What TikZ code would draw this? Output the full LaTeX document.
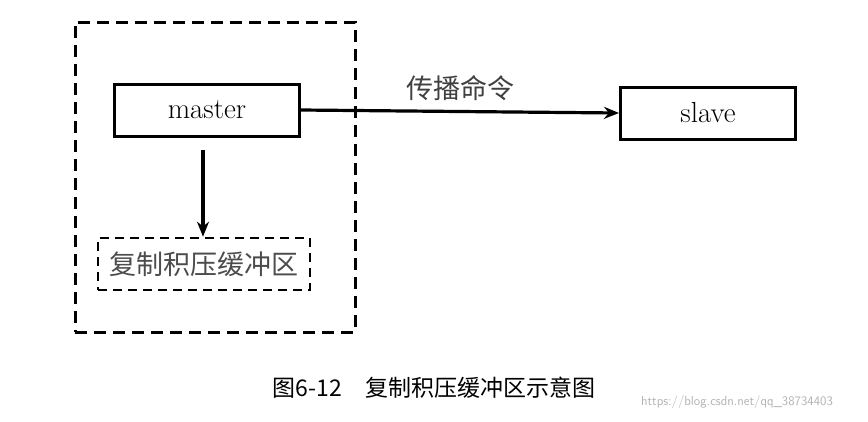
\documentclass[tikz,border=0pt]{standalone}
\usepackage{fontspec}
\newfontfamily\cjk{Noto Sans CJK SC}
\usetikzlibrary{arrows.meta}
\begin{document}
\begin{tikzpicture}[x=1pt,y=-1pt,
  box/.style={draw,line width=3pt,minimum width=#1,minimum height=52pt,inner sep=0pt},
  dbox/.style={draw,line width=3pt,dash pattern=on 12pt off 7pt},
  arr/.style={-{Stealth[length=15pt,width=12pt]},line width=3.2pt}]
\useasboundingbox (0,0) rectangle (868,421);
\fill[white] (0,0) rectangle (868,421);
\node[dbox,minimum width=280pt,minimum height=310pt] (outer) at (215,177) {};
\node[box=185pt,font=\fontsize{29}{32}\selectfont] (master) at (207,110) {master};
\node[box=175pt,font=\fontsize{29}{32}\selectfont] (slave) at (708,113) {slave};
\node[dbox,line width=2.6pt,dash pattern=on 9pt off 6pt,minimum width=212pt,minimum height=52pt,text=black!70,font=\cjk\fontsize{27}{30}\selectfont] (buf) at (204,264) {复制积压缓冲区};
\coordinate (m1) at (203,150);
\draw[arr] (m1) -- (buf.north -| m1);
\draw[arr] (master.east) -- node[above=6pt,font=\cjk\fontsize{27}{30}\selectfont,text=black!75] (lbl) {传播命令} (slave.west);
\node[font=\cjk\fontsize{23}{26}\selectfont] (cap) at (434,388) {图6-12\quad 复制积压缓冲区示意图};
\node[font=\sffamily\fontsize{13}{15}\selectfont,text=black!30] (wm) at (737,402) {https://blog.csdn.net/qq\_38734403};
\end{tikzpicture}
\end{document}
